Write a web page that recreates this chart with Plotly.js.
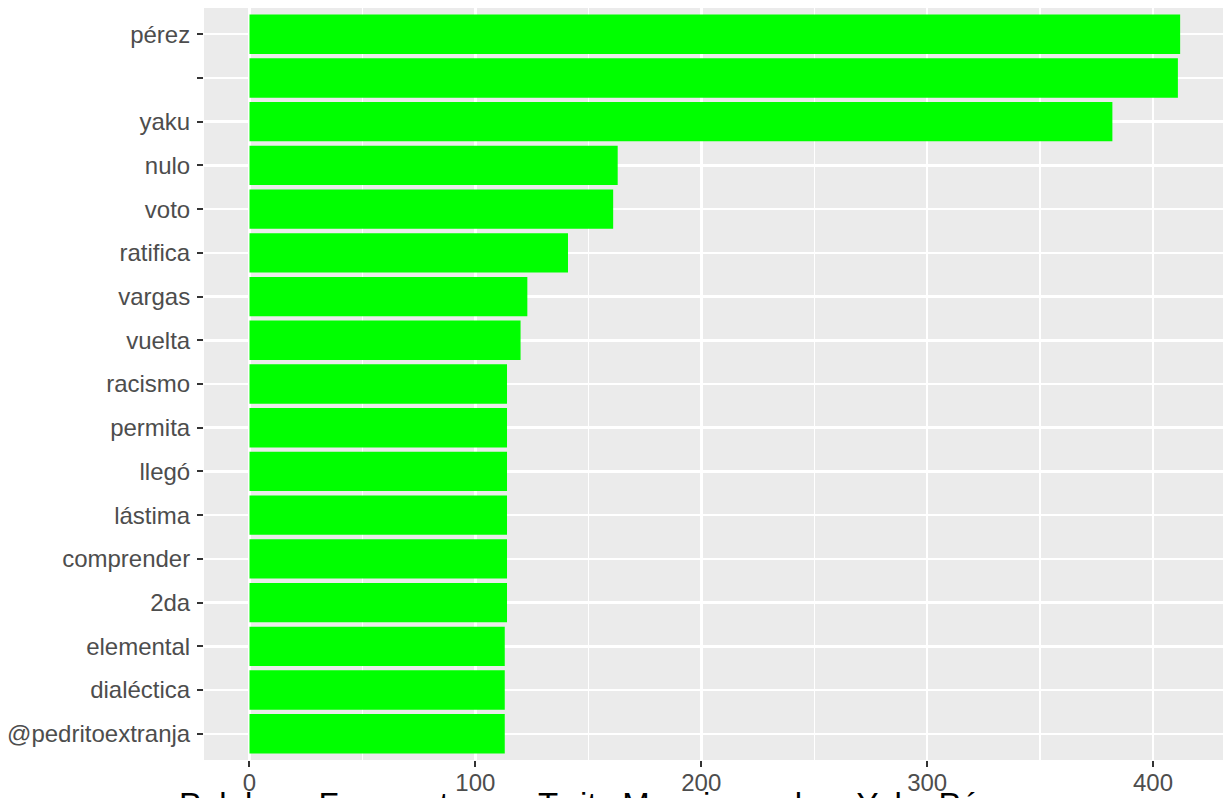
<!DOCTYPE html>
<html>
<head>
<meta charset="utf-8">
<script src="https://cdn.plot.ly/plotly-3.0.1.min.js"></script>
<style>html,body{margin:0;padding:0;background:#fff;overflow:hidden;}</style>
</head>
<body>
<div id="chart" style="width:1223px;height:798px;"></div>
<script>
// Words ordered bottom to top (as drawn)
const words = ["@pedritoextranja", "dialéctica", "elemental", "2da", "comprender", "lástima", "llegó", "permita", "racismo", "vuelta", "vargas", "ratifica", "voto", "nulo", "yaku", " ", "pérez"];
const counts = [113, 113, 113, 114, 114, 114, 114, 114, 114, 120, 123, 141, 161, 163, 382, 411, 412];
const xTicks = [0, 100, 200, 300, 400];
const titleText = "Palabras Frecuentes en Twits Mencionando a Yaku Pérez";

const fontFam = "Liberation Sans, Arial, Helvetica, sans-serif";

const trace = {
  type: "bar",
  orientation: "h",
  x: counts,
  y: words,
  marker: {color: "#00FF00", line: {width: 0}},
  hoverinfo: "x+y"
};

const layout = {
  width: 1223,
  height: 798,
  margin: {l: 204, r: 0, t: 8, b: 38, pad: 0},
  paper_bgcolor: "#FFFFFF",
  plot_bgcolor: "#EBEBEB",
  bargap: 0.1,
  showlegend: false,
  font: {family: fontFam, color: "#4D4D4D", size: 24},
  xaxis: {
    range: [-20.14, 430.97],
    tickvals: xTicks,
    ticktext: xTicks.map(String),
    ticks: "outside",
    ticklen: 6,
    tickwidth: 2,
    tickcolor: "#333333",
    tickfont: {family: fontFam, size: 24, color: "#4D4D4D"},
    ticklabelstandoff: -5,
    showgrid: true,
    gridcolor: "#FFFFFF",
    gridwidth: 2.5,
    zeroline: false,
    showline: false,
    automargin: false,
    minor: {dtick: 50, tick0: 0, showgrid: true, gridcolor: "#FFFFFF", gridwidth: 1.3, ticklen: 0}
  },
  yaxis: {
    type: "category",
    categoryorder: "array",
    categoryarray: words,
    range: [-0.6, 16.6],
    ticks: "outside",
    ticklen: 6,
    tickwidth: 2,
    tickcolor: "#333333",
    tickfont: {family: fontFam, size: 24, color: "#4D4D4D"},
    ticklabelstandoff: 2,
    showgrid: true,
    gridcolor: "#FFFFFF",
    gridwidth: 2.5,
    zeroline: false,
    showline: false,
    automargin: false
  },
  annotations: [{
    text: titleText,
    xref: "paper",
    yref: "paper",
    x: -0.0265,
    xanchor: "left",
    y: -0.0325,
    yanchor: "top",
    showarrow: false,
    font: {family: fontFam, size: 33, color: "#000000"}
  }]
};

Plotly.newPlot("chart", [trace], layout, {displayModeBar: false, staticPlot: true});
</script>
</body>
</html>
